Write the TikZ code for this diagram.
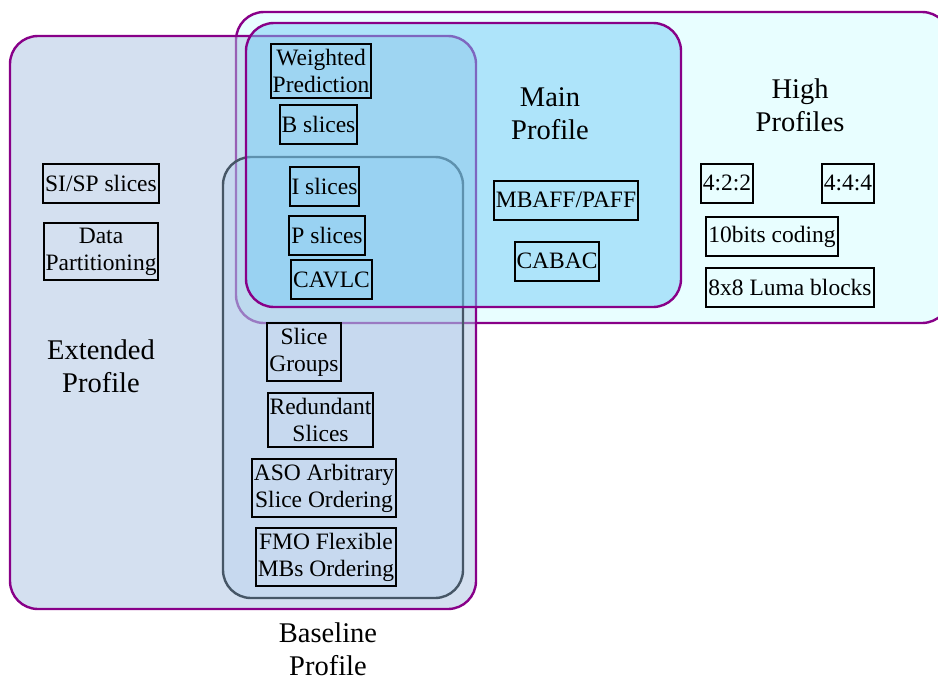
\documentclass[tikz,border=0pt]{standalone}
\usepackage{fontspec}
\setmainfont{Liberation Serif}
\usepackage{xcolor}
\usetikzlibrary{positioning}
\definecolor{profline}{RGB}{136,0,136}
\definecolor{baseedge}{RGB}{70,86,102}
\definecolor{highfill}{RGB}{232,254,255}
\definecolor{extfill}{RGB}{169,193,225}
\definecolor{basefill}{RGB}{160,200,236}
\definecolor{mainfill}{RGB}{118,204,246}

\begin{document}
\begin{tikzpicture}[x=0.5pt,y=-0.5pt,
  profile/.style={rounded corners=14pt, line width=1.2pt, draw=profline},
  feature/.style={draw=black, line width=1pt, align=center, inner xsep=1pt,
    inner ysep=2.5pt, minimum height=19.5pt, font=\fontsize{11.75}{13.5}\selectfont},
  title/.style={align=center, font=\fontsize{14.25}{16.5}\selectfont}]
\useasboundingbox (0,0) rectangle (938,680);
\clip (0,0) rectangle (938,680);
% profile regions
\draw[profile, fill=highfill] (236,12) rectangle (950,323);
\draw[profile, fill=extfill, fill opacity=.5] (10,36) rectangle (476,609);
\draw[rounded corners=14pt, line width=1.2pt, draw=baseedge, fill=basefill, fill opacity=.25] (223,157) rectangle (463,598);
\draw[profile, fill=mainfill, fill opacity=.5] (246,23) rectangle (681,307);
% labels
\node[title] (ext) at (101,366) {Extended\\Profile};
\node[title] (main) at (550,114) {Main\\Profile};
\node[title] (high) at (800,105) {High\\Profiles};
\node[title] (base) at (328,649) {Baseline\\Profile};
% extended
\node[feature] (sisp) at (101,183) {SI/SP slices};
\node[feature] (dp) at (101,251.5) {Data\\Partitioning};
% extended and main
\node[feature] (wp) at (321,71) {Weighted\\Prediction};
\node[feature] (bsl) at (318.5,124) {B slices};
% all of them
\node[feature] (isl) at (324.5,186.5) {I slices};
\node[feature] (psl) at (327,235) {P slices};
\node[feature] (cavlc) at (331.5,279.5) {CAVLC};
% baseline and extended
\node[feature] (sg) at (304,352) {Slice\\Groups};
\node[feature] (rs) at (320.5,420) {Redundant\\Slices};
\node[feature] (aso) at (324,488) {ASO Arbitrary\\Slice Ordering};
\node[feature] (fmo) at (326,557) {FMO Flexible\\MBs Ordering};
% main
\node[feature] (mbaff) at (566,200) {MBAFF/PAFF};
\node[feature] (cabac) at (557,261) {CABAC};
% high
\node[feature] (c422) at (727,183) {4:2:2};
\node[feature] (c444) at (848,183) {4:4:4};
\node[feature] (tenbit) at (772,236.5) {10bits coding};
\node[feature] (luma) at (790,287) {8x8 Luma blocks};
\end{tikzpicture}
\end{document}
